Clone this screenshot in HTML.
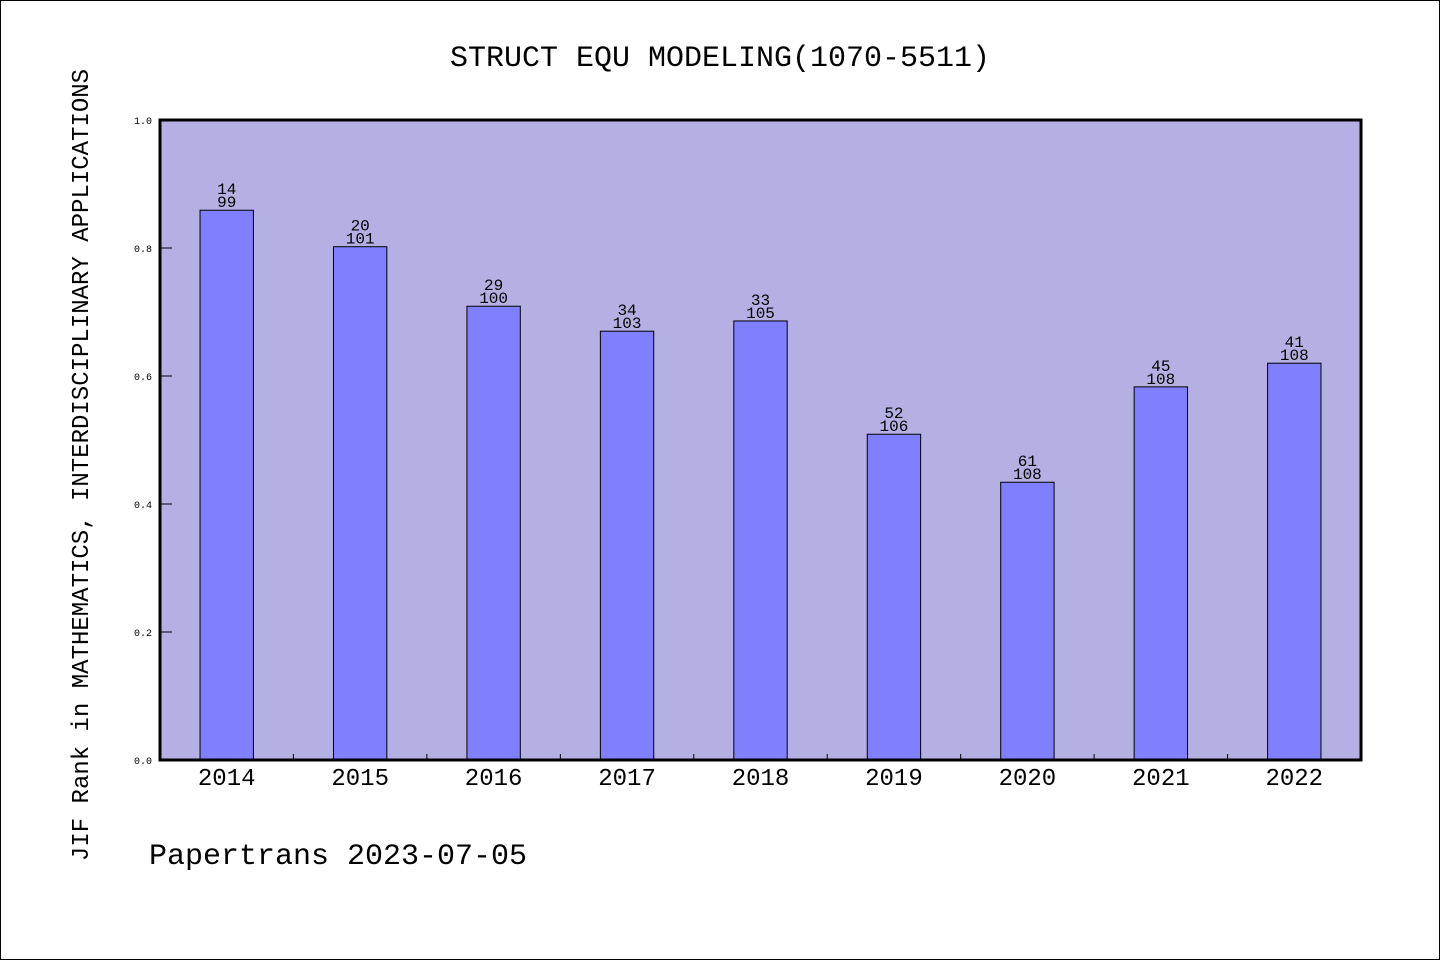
<!DOCTYPE html>
<html><head><meta charset="utf-8"><style>
html,body{margin:0;padding:0;background:#fff}
svg{display:block}
text{font-family:"Liberation Mono","WenQuanYi Zen Hei",monospace;fill:#000}
</style></head><body>
<svg id="chart" width="1440" height="960">
<rect x="0.5" y="0.5" width="1439" height="959" fill="#fff" stroke="#000"/>
<text x="720" y="66" text-anchor="middle" font-size="30">STRUCT EQU MODELING(1070-5511)</text>
<text transform="translate(88,465) rotate(-90)" text-anchor="middle" font-size="24">JIF Rank in MATHEMATICS, INTERDISCIPLINARY APPLICATIONS</text>
<text x="149" y="864" font-size="30">Papertrans 2023-07-05</text>
<rect x="160" y="120" width="1201" height="640" fill="#b5b0e3"/>
<g id="marks"></g>
<rect x="160" y="120" width="1201" height="640" fill="none" stroke="#000" stroke-width="3"/>
</svg>
<script>
const categories = ["2014","2015","2016","2017","2018","2019","2020","2021","2022"];
const values = [0.859,0.802,0.709,0.670,0.686,0.509,0.434,0.583,0.620];
const ranks = ["14","20","29","34","33","52","61","45","41"];
const totals = ["99","101","100","103","105","106","108","108","108"];
const yTicks = [0,0.2,0.4,0.6,0.8,1.0];
const X0=160, X1=1361, Y0=760, Y1=120;
const band=(X1-X0)/categories.length;
const xc=i=>X0+band*(i+0.5);
const y=v=>Y0-(Y0-Y1)*v;
const NS="http://www.w3.org/2000/svg";
const g=document.getElementById('marks');
function mk(t,a){const e=document.createElementNS(NS,t);for(const k in a)e.setAttribute(k,a[k]);return e;}
yTicks.forEach(t=>{
  const l=mk('line',{x1:X0,x2:X0+12,y1:y(t),y2:y(t),stroke:'#000','stroke-width':1});
  
  
  g.appendChild(l);
  const tx=mk('text',{x:152,y:y(t)+4,'text-anchor':'end','font-size':10});
  tx.textContent=t.toFixed(1);
  
  
  g.appendChild(tx);
});
categories.forEach((c,i)=>{
  const bw=band*0.4;
  const r=mk('rect',{x:xc(i)-bw/2,y:y(values[i]),width:bw,height:Y0-y(values[i]),fill:'#8080ff',stroke:'#000','stroke-width':1});
  
  
  g.appendChild(r);
  const t1=mk('text',{x:xc(i),y:y(values[i])-16,'text-anchor':'middle','font-size':16});
  t1.textContent=ranks[i];
  
  
  g.appendChild(t1);
  const t2=mk('text',{x:xc(i),y:y(values[i])-3,'text-anchor':'middle','font-size':16});
  t2.textContent=totals[i];
  
  
  g.appendChild(t2);
  const xl=mk('text',{x:xc(i),y:785,'text-anchor':'middle','font-size':24});
  xl.textContent=c;
  
  
  g.appendChild(xl);
  if(i>0){
    const tk=mk('line',{x1:X0+band*i,x2:X0+band*i,y1:Y0,y2:Y0-6,stroke:'#000','stroke-width':1});
    
    
    g.appendChild(tk);
  }
});
</script>
</body></html>
